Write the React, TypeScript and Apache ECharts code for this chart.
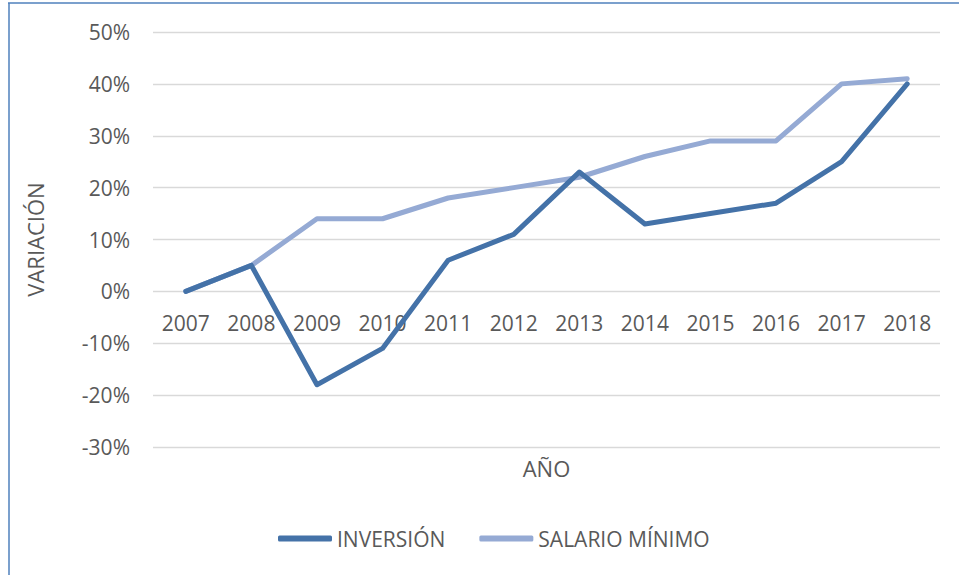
import React, { useEffect, useRef } from "react";
import * as echarts from "echarts";

const years = ["2007", "2008", "2009", "2010", "2011", "2012", "2013", "2014", "2015", "2016", "2017", "2018"];
const inversion = [0, 5, -18, -11, 6, 11, 23, 13, 15, 17, 25, 40];
const salarioMinimo = [0, 5, 14, 14, 18, 20, 22, 26, 29, 29, 40, 41];

const FONT = "'Open Sans', sans-serif";
const TXT = "#595959";

export default function App() {
  const ref = useRef<HTMLDivElement>(null);
  useEffect(() => {
    const chart = echarts.init(ref.current!, null, { renderer: "svg" });
    chart.setOption({
      animation: false,
      backgroundColor: "#ffffff",
      textStyle: { fontFamily: FONT },
      graphic: [
        { type: "line", shape: { x1: 9, y1: 3, x2: 9, y2: 575 }, style: { stroke: "#4f81bd", lineWidth: 1.5 } },
        { type: "line", shape: { x1: 8, y1: 3, x2: 959, y2: 3 }, style: { stroke: "#4f81bd", lineWidth: 1.5 } },
      ],
      grid: { left: 153, right: 19, top: 32, bottom: 128, outerBoundsMode: "none", containLabel: false },
      legend: {
        top: 528,
        left: 278,
        padding: 0,
        itemWidth: 54,
        itemHeight: 6,
        itemGap: 34,
        icon: "roundRect",
        textStyle: { fontFamily: FONT, fontSize: 21, color: TXT },
        data: ["INVERSIÓN", "SALARIO MÍNIMO"],
      },
      xAxis: {
        type: "category",
        data: years,
        boundaryGap: true,
        offset: -156,
        name: "AÑO",
        nameLocation: "middle",
        nameGap: 166,
        nameTextStyle: { fontFamily: FONT, fontSize: 22, color: TXT },
        axisLine: { show: false, onZero: false },
        axisTick: { show: false },
        axisLabel: { fontFamily: FONT, fontSize: 21, color: TXT, margin: 21 },
      },
      yAxis: {
        type: "value",
        min: -30,
        max: 50,
        interval: 10,
        name: "VARIACIÓN",
        nameLocation: "middle",
        nameGap: 107,
        nameRotate: 90,
        nameTextStyle: { fontFamily: FONT, fontSize: 22, color: TXT },
        axisLine: { show: false },
        axisTick: { show: false },
        splitLine: { lineStyle: { color: "#d9d9d9", width: 1.3 } },
        axisLabel: { fontFamily: FONT, fontSize: 21, color: TXT, margin: 23, formatter: "{value}%" },
      },
      series: [
        {
          name: "INVERSIÓN",
          type: "line",
          data: inversion,
          showSymbol: false,
          symbol: "none",
          color: "#4472a8",
          lineStyle: { width: 5, color: "#4472a8", cap: "round", join: "round" },
          z: 3,
        },
        {
          name: "SALARIO MÍNIMO",
          type: "line",
          data: salarioMinimo,
          showSymbol: false,
          symbol: "none",
          color: "#95aad4",
          lineStyle: { width: 5, color: "#95aad4", cap: "round", join: "round" },
          z: 2,
        },
      ],
    });
    return () => chart.dispose();
  }, []);
  return <div ref={ref} style={{ position: "absolute", left: 0, top: 0, width: 959, height: 575 }} />;
}
